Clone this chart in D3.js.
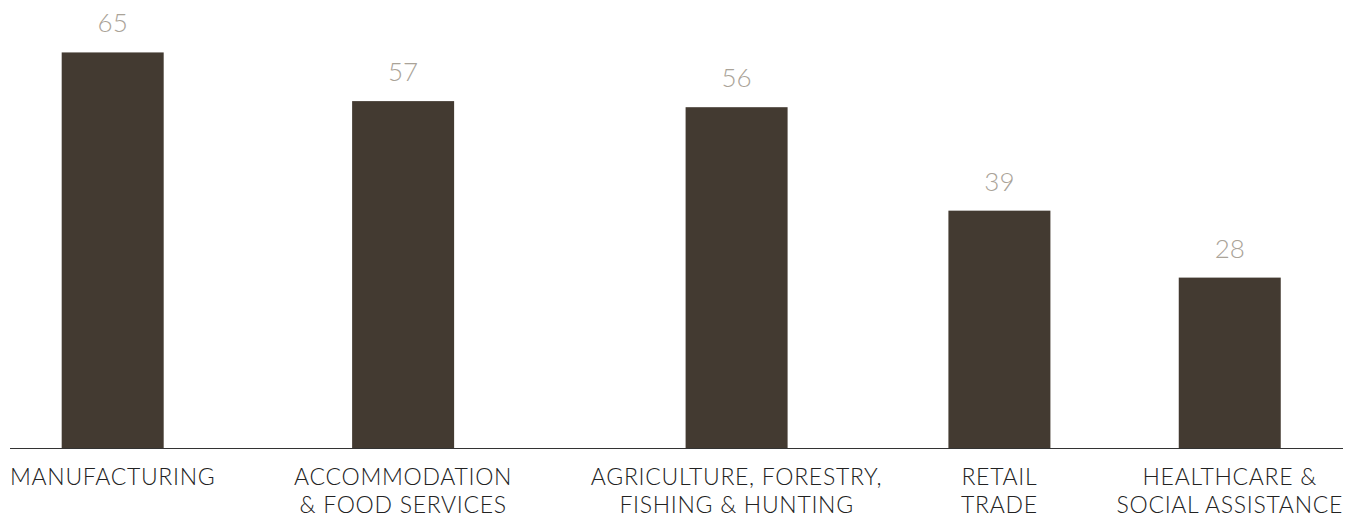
<!DOCTYPE html>
<html>
<head>
<meta charset="utf-8">
<script src="https://cdn.jsdelivr.net/npm/d3@7"></script>
<style>
  body { margin: 0; background: #fff; }
  svg text { font-family: Lato, "Noto Sans", sans-serif; }
</style>
</head>
<body>
<svg id="chart" width="1363" height="520"></svg>
<script>
// data
const categories = ["Manufacturing", "Accommodation & Food Services", "Agriculture, Forestry, Fishing & Hunting", "Retail Trade", "Healthcare & Social Assistance"];
const labelLines = [
    ["MANUFACTURING"],
    ["ACCOMMODATION", "& FOOD SERVICES"],
    ["AGRICULTURE, FORESTRY,", "FISHING & HUNTING"],
    ["RETAIL", "TRADE"],
    ["HEALTHCARE &", "SOCIAL ASSISTANCE"]
];
const values = [65, 57, 56, 39, 28];

let left = 10
let right = 1343
let baseY = 448
let barWidth = 102

let svg = d3.select("#chart")

let y = d3.scaleLinear()
    .domain([0, 70])
    .range([baseY, 22])

// category labels first, so their widths can set the spacing
let labels = svg.append("g")
    .selectAll("text")
    .data(categories)
    .enter()
    .append("text")
    .attr("text-anchor", "middle")
    .style("font-size", "23px")
    .style("font-weight", 300)
    .style("letter-spacing", "0.7px")
    .style("fill", "#222")

labels.selectAll("tspan")
    .data((d, i) => labelLines[i])
    .enter()
    .append("tspan")
    .attr("x", 0)
    .attr("y", (d, j) => baseY + 37 + j * 28)
    .text(d => d)

let widths = []
labels.each(function () {
    let w = 0
    d3.select(this).selectAll("tspan").each(function () {
        w = Math.max(w, this.getComputedTextLength())
    })
    widths.push(w)
})

let gap = (right - left - d3.sum(widths)) / (widths.length - 1)
let centers = []
let pos = left
widths.forEach(w => {
    centers.push(pos + w / 2)
    pos += w + gap
})

let x = d3.scaleOrdinal()
    .domain(categories)
    .range(centers)

labels.attr("transform", d => "translate(" + x(d) + ",0)")

svg.append("g")
    .selectAll("rect")
    .data(categories)
    .enter()
    .append("rect")
    .attr("x", d => x(d) - barWidth / 2)
    .attr("width", barWidth)
    .attr("y", (d, i) => y(values[i]))
    .attr("height", (d, i) => baseY - y(values[i]))
    .attr("fill", "#433a31")

svg.append("g")
    .selectAll("text")
    .data(categories)
    .enter()
    .append("text")
    .attr("x", d => x(d))
    .attr("y", (d, i) => y(values[i]) - 20)
    .attr("text-anchor", "middle")
    .style("font-size", "26px")
    .style("font-weight", 300)
    .style("fill", "#aaa398")
    .text((d, i) => values[i])

svg.append("line")
    .attr("x1", left)
    .attr("x2", right)
    .attr("y1", baseY + 0.5)
    .attr("y2", baseY + 0.5)
    .attr("stroke", "#333")
    .attr("stroke-width", 1.2)
</script>
</body>
</html>
